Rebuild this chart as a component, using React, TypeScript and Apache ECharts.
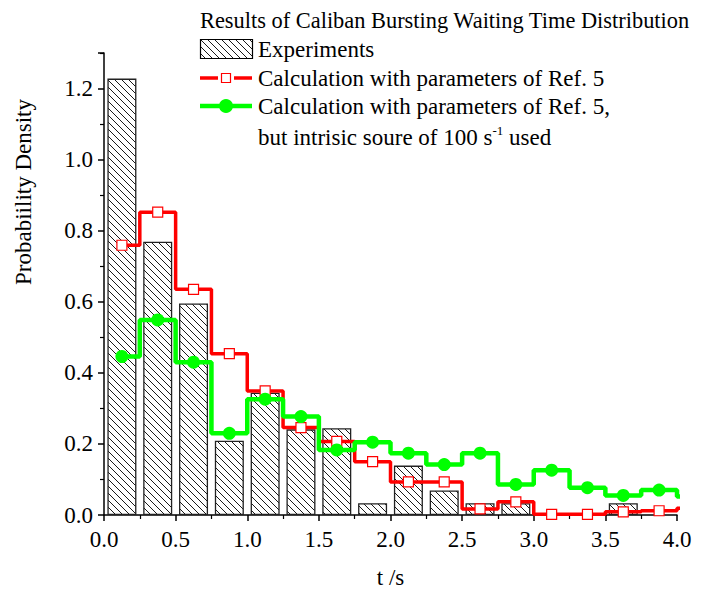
import React, { useEffect, useRef } from "react";
import * as echarts from "echarts";

// bin centres (s), bin width 0.25 s; last value lies just beyond the axis end
const binCenters = [0.125, 0.375, 0.625, 0.875, 1.125, 1.375, 1.625, 1.875, 2.125, 2.375, 2.625, 2.875, 3.125, 3.375, 3.625, 3.875, 4.125];
const experiments = [1.228, 0.769, 0.595, 0.209, 0.344, 0.241, 0.244, 0.033, 0.139, 0.069, 0.033, 0.033, 0, 0, 0.033, 0];
const calcRef5 = [0.759, 0.852, 0.635, 0.454, 0.349, 0.246, 0.207, 0.150, 0.093, 0.093, 0.017, 0.037, 0.002, 0.002, 0.009, 0.012, 0.019];
const calcIntrinsic = [0.446, 0.549, 0.430, 0.230, 0.326, 0.277, 0.183, 0.205, 0.174, 0.142, 0.174, 0.086, 0.126, 0.077, 0.055, 0.070, 0.052];

const titleText = "Results of Caliban Bursting Waiting Time Distribution";
const legendExp = "Experiments";
const legendRed = "Calculation with parameters of Ref. 5";
const legendGreen1 = "Calculation with parameters of Ref. 5,";
const xName = "t /s";
const yName = "Probabiility Density";

const FONT = "Liberation Serif";
const FS = 23;

function makeHatch(): HTMLCanvasElement {
  const s = 7;
  const c = document.createElement("canvas");
  c.width = s;
  c.height = s;
  const ctx = c.getContext("2d")!;
  ctx.fillStyle = "#fff";
  ctx.fillRect(0, 0, s, s);
  ctx.strokeStyle = "#000";
  ctx.lineWidth = 0.9;
  ctx.beginPath();
  ctx.moveTo(-1, -1);
  ctx.lineTo(s + 1, s + 1);
  ctx.moveTo(-1, s - 1);
  ctx.lineTo(1, s + 1);
  ctx.moveTo(s - 1, -1);
  ctx.lineTo(s + 1, 1);
  ctx.stroke();
  return c;
}

export default function App() {
  const ref = useRef<HTMLDivElement>(null);
  useEffect(() => {
    if (!ref.current) return;
    const chart = echarts.init(ref.current, null, { renderer: "svg" });
    const hatch = makeHatch();
    const pattern: any = { image: hatch, repeat: "repeat" };

    const barData = binCenters
      .slice(0, experiments.length)
      .map((x, i) => (experiments[i] > 0 ? [x, experiments[i]] : [x, null]));
    const redData = binCenters.map((x, i) => [x, calcRef5[i]]);
    const greenData = binCenters.map((x, i) => [x, calcIntrinsic[i]]);

    const lx = 200;
    const tx = 258;
    chart.setOption({
      animation: false,
      backgroundColor: "#fff",
      grid: { left: 104, right: 27, top: 53, bottom: 74, containLabel: false, outerBoundsMode: "none" },
      xAxis: {
        type: "value",
        min: 0,
        max: 4,
        interval: 0.5,
        axisLine: { show: true, onZero: false, lineStyle: { color: "#000", width: 1.5 } },
        axisTick: { show: true, inside: false, length: 6, lineStyle: { color: "#000", width: 1.5 } },
        minorTick: { show: true, splitNumber: 2, length: 4, lineStyle: { color: "#000", width: 1.2 } },
        axisLabel: {
          fontFamily: FONT,
          fontSize: FS,
          color: "#000",
          margin: 13,
          formatter: (v: number) => v.toFixed(1),
        },
        splitLine: { show: false },
      },
      yAxis: {
        type: "value",
        min: 0,
        max: 1.3,
        interval: 0.2,
        axisLine: { show: true, onZero: false, lineStyle: { color: "#000", width: 1.5 } },
        axisTick: { show: true, inside: false, length: 6, lineStyle: { color: "#000", width: 1.5 } },
        minorTick: { show: true, splitNumber: 2, length: 4, lineStyle: { color: "#000", width: 1.2 } },
        axisLabel: {
          fontFamily: FONT,
          fontSize: FS,
          color: "#000",
          margin: 11,
          showMaxLabel: false,
          formatter: (v: number) => (Math.abs(v * 10 - Math.round(v * 10)) < 1e-6 && Math.round(v * 10) % 2 === 0 ? v.toFixed(1) : ""),
        },
        splitLine: { show: false },
      },
      series: [
        {
          type: "bar",
          data: barData,
          barWidth: 29,
          itemStyle: { color: pattern, borderColor: "#222", borderWidth: 1.3 },
          z: 1,
        },
        {
          type: "line",
          step: "middle",
          data: redData,
          clip: true,
          symbol: "rect",
          symbolSize: 10,
          showAllSymbol: true,
          lineStyle: { color: "#ff0000", width: 3.5 },
          itemStyle: { color: "#fff", borderColor: "#ff0000", borderWidth: 1.2 },
          z: 3,
        },
        {
          type: "line",
          step: "middle",
          data: greenData,
          clip: true,
          symbol: "circle",
          symbolSize: 13,
          showAllSymbol: true,
          lineStyle: { color: "#00ff00", width: 4.5 },
          itemStyle: { color: "#00ff00", borderWidth: 0 },
          z: 4,
        },
      ],
      graphic: [
        {
          type: "text",
          x: 23,
          y: 192,
          rotation: Math.PI / 2,
          style: { text: yName, fontFamily: FONT, fontSize: FS, fill: "#000", align: "center", verticalAlign: "middle" },
        },
        {
          type: "text",
          x: 390.5,
          y: 577,
          style: { text: xName, fontFamily: FONT, fontSize: FS, fill: "#000", align: "center", verticalAlign: "middle" },
        },
        {
          type: "text",
          x: lx,
          y: 20,
          style: { text: titleText, fontFamily: FONT, fontSize: 22.4, fill: "#000", align: "left", verticalAlign: "middle" },
        },
        {
          type: "rect",
          shape: { x: lx + 0.5, y: 39.5, width: 52, height: 19 },
          style: { fill: pattern, stroke: "#000", lineWidth: 1.2 },
        },
        {
          type: "text",
          x: tx,
          y: 49,
          style: { text: legendExp, fontFamily: FONT, fontSize: FS, fill: "#000", align: "left", verticalAlign: "middle" },
        },
        { type: "line", shape: { x1: lx, y1: 78, x2: lx + 18, y2: 78 }, style: { stroke: "#ff0000", lineWidth: 3.5 } },
        { type: "line", shape: { x1: lx + 34, y1: 78, x2: lx + 52, y2: 78 }, style: { stroke: "#ff0000", lineWidth: 3.5 } },
        { type: "rect", shape: { x: lx + 21.5, y: 73.5, width: 9, height: 9 }, style: { fill: "#fff", stroke: "#ff0000", lineWidth: 1.2 } },
        {
          type: "text",
          x: tx,
          y: 78,
          style: { text: legendRed, fontFamily: FONT, fontSize: FS, fill: "#000", align: "left", verticalAlign: "middle" },
        },
        { type: "line", shape: { x1: lx, y1: 106, x2: lx + 52, y2: 106 }, style: { stroke: "#00ff00", lineWidth: 4.5 } },
        { type: "circle", shape: { cx: lx + 26, cy: 106, r: 7 }, style: { fill: "#00ff00" } },
        {
          type: "text",
          x: tx,
          y: 106,
          style: { text: legendGreen1, fontFamily: FONT, fontSize: FS, fill: "#000", align: "left", verticalAlign: "middle" },
        },
        {
          type: "text",
          x: tx,
          y: 137,
          style: {
            text: "{a|but intrisic soure of 100 s}{sup|-1}{a| used}",
            fill: "#000",
            align: "left",
            verticalAlign: "middle",
            rich: {
              a: { fontFamily: FONT, fontSize: FS, lineHeight: 27, fill: "#000" },
              sup: { fontFamily: FONT, fontSize: 13, lineHeight: 13, verticalAlign: "top", fill: "#000" },
            },
          },
        },
      ],
    });
    return () => chart.dispose();
  }, []);
  return <div ref={ref} style={{ position: "absolute", left: 0, top: 0, width: 704, height: 589 }} />;
}
